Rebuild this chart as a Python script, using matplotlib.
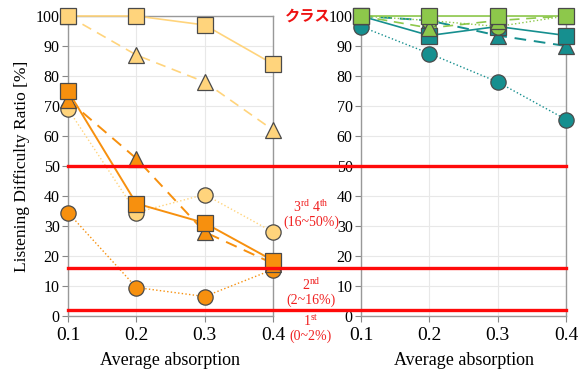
import matplotlib
matplotlib.use("Agg")
import matplotlib.pyplot as plt
import matplotlib.transforms as mtransforms
from matplotlib.lines import Line2D

plt.rcParams['font.family'] = ['Liberation Serif', 'DejaVu Serif']
plt.rcParams['mathtext.fontset'] = 'custom'
plt.rcParams['mathtext.rm'] = 'Liberation Serif'

absorption = [0.1, 0.2, 0.3, 0.4]

# left panel (light yellow / orange)
ly_square = [100, 100, 97, 84]
ly_triangle = [100, 87, 78, 62]
ly_circle = [69, 34.5, 40.5, 28]
or_square = [75, 37.5, 31, 18.5]
or_triangle = [72, 52.5, 28, 17.5]
or_circle = [34.5, 9.5, 6.5, 15.5]

# right panel (green / teal)
gr_square = [100, 100, 100, 100]
gr_triangle = [100, 96, 98.5, 100]
gr_circle = [100, 98.5, 96.5, 100]
te_square = [100, 93.5, 96.5, 93.5]
te_triangle = [100, 98.5, 93.5, 90]
te_circle = [96.5, 87.5, 78, 65.5]

class_bounds = [50, 16, 2]

LY = '#FFD47C'
OR = '#F7900E'
GR = '#8DC84B'
TE = '#168F8F'

fig = plt.figure(figsize=(5.85, 3.73), dpi=100)
ax1 = fig.add_axes([68/585, 1-316/373, 205/585, 300/373])
ax2 = fig.add_axes([361/585, 1-316/373, 205/585, 300/373])


def series(ax, y, color, marker, ls, lw=1.1, z=3):
    ax.plot(absorption, y, color=color, linestyle=ls, linewidth=lw,
            marker=marker, markersize=11,
            markerfacecolor=color, markeredgecolor='#4a4a4a',
            markeredgewidth=0.9, zorder=z, clip_on=False)


series(ax1, ly_circle, LY, 'o', ':', 1.0)
series(ax1, ly_triangle, LY, '^', (0, (6, 4)), 1.2)
series(ax1, ly_square, LY, 's', '-', 1.2)
series(ax1, or_circle, OR, 'o', ':', 1.0)
series(ax1, or_triangle, OR, '^', (0, (6, 4)), 1.4)
series(ax1, or_square, OR, 's', '-', 1.4)

series(ax2, te_circle, TE, 'o', ':', 1.0)
series(ax2, te_triangle, TE, '^', (0, (6, 4)), 1.4)
series(ax2, te_square, TE, 's', '-', 1.2)
series(ax2, gr_circle, GR, 'o', ':', 1.0)
series(ax2, gr_triangle, GR, '^', (0, (6, 4)), 1.2)
series(ax2, gr_square, GR, 's', '-', 1.2)

for ax in (ax1, ax2):
    ax.set_xlim(0.1, 0.4)
    ax.set_ylim(0, 100)
    ax.set_xticks(absorption)
    ax.set_xticklabels(['0.1', '0.2', '0.3', '0.4'], fontsize=14)
    ax.set_yticks(range(0, 101, 10))
    ax.tick_params(axis='y', labelsize=11.5, length=4, color='#888888', pad=2)
    ax.tick_params(axis='x', length=4, color='#888888', pad=4)
    ax.grid(True, color='#e8e8e8', linewidth=0.8, zorder=0)
    ax.set_axisbelow(True)
    for s in ax.spines.values():
        s.set_color('#999999')
        s.set_linewidth(1.0)
    ax.set_xlabel('Average absorption', fontsize=13, labelpad=6)

ax2.spines['top'].set_visible(False)
ax1.set_ylabel('Listening Difficulty Ratio [%]', fontsize=12.5, labelpad=4)

# class boundary lines across both panels
trans = mtransforms.blended_transform_factory(fig.transFigure, ax1.transData)
for b in class_bounds:
    fig.add_artist(Line2D([68/585, 566/585], [b, b], transform=trans,
                          color='#ff0a0a', linewidth=2.4, zorder=10))

red = '#f02020'
cx = 311/585
fs = 10
fig.text(cx, 1-207/373, r'3$^{\rm rd}$ 4$^{\rm th}$', color=red, fontsize=fs,
         ha='center', va='center')
fig.text(cx, 1-222/373, '(16~50%)', color=red, fontsize=fs, ha='center', va='center')
fig.text(cx, 1-285/373, r'2$^{\rm nd}$', color=red, fontsize=fs, ha='center', va='center')
fig.text(cx, 1-300/373, '(2~16%)', color=red, fontsize=fs, ha='center', va='center')
fig.text(cx, 1-321/373, r'1$^{\rm st}$', color=red, fontsize=fs, ha='center', va='center')
fig.text(cx, 1-336/373, '(0~2%)', color=red, fontsize=fs, ha='center', va='center')
fig.text(331/585, 1-16/373, 'クラス', color='#ee1111', fontsize=11,
         fontweight='bold', family=['Noto Sans CJK JP', 'DejaVu Sans'],
         ha='right', va='center')

fig.savefig('out.png', dpi=100)
